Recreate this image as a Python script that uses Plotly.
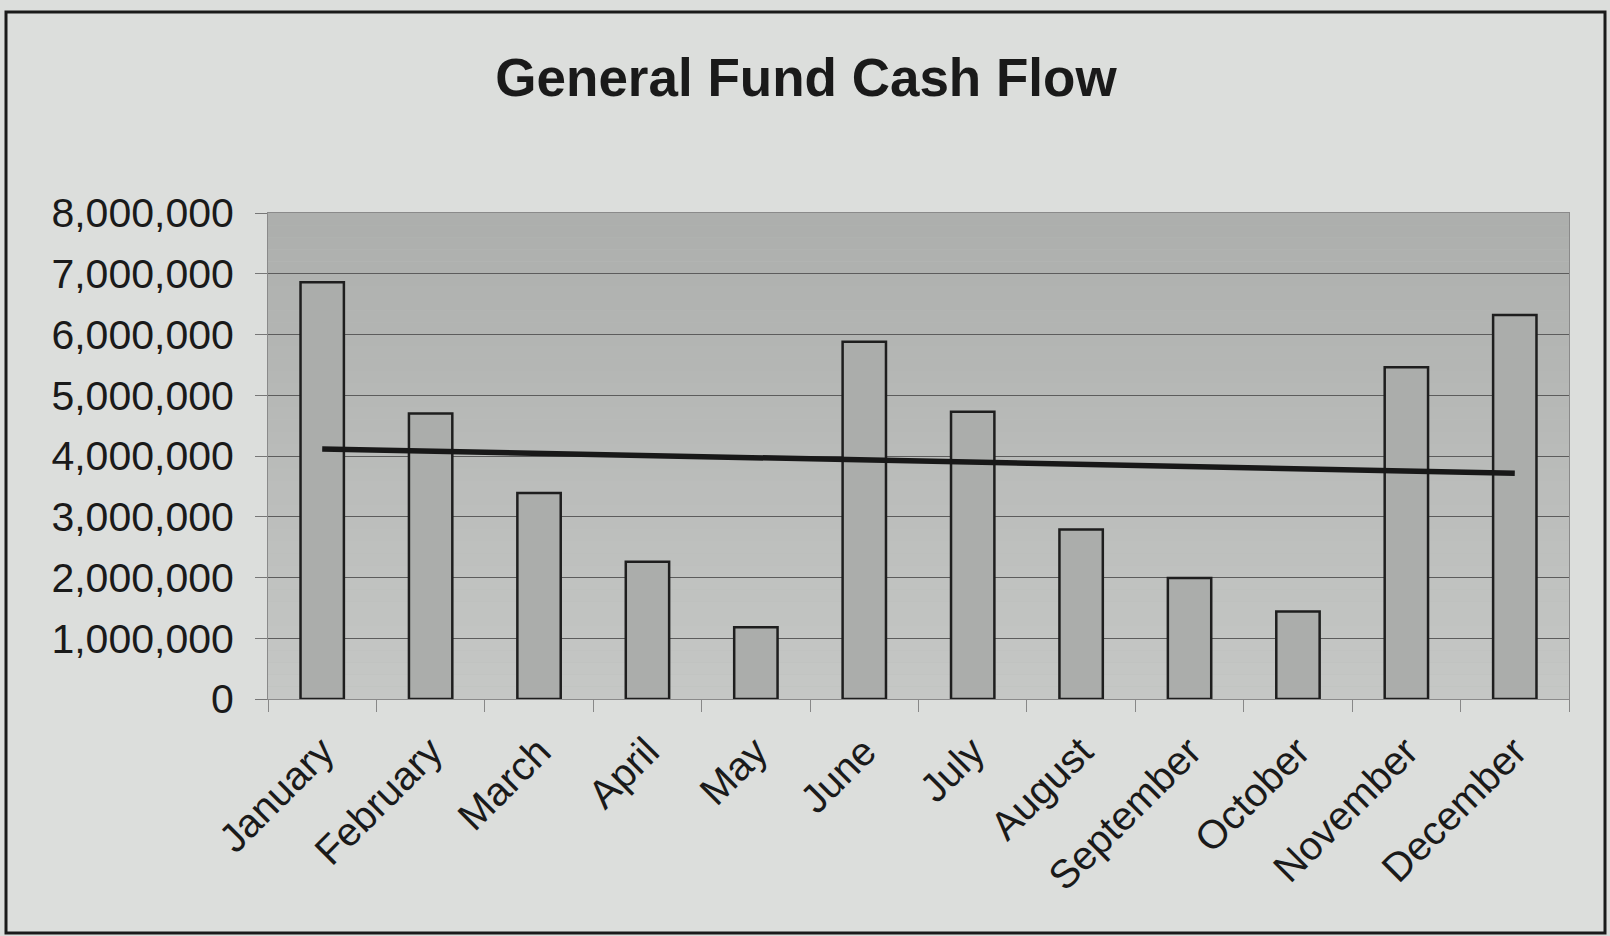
import numpy as np
import plotly.graph_objects as go

months = ["January", "February", "March", "April", "May", "June", "July",
          "August", "September", "October", "November", "December"]
cash_flow = [6860000, 4700000, 3390000, 2260000, 1180000, 5880000, 4730000,
             2790000, 1990000, 1440000, 5460000, 6320000]
y_tickvals = [0, 1000000, 2000000, 3000000, 4000000, 5000000, 6000000, 7000000, 8000000]
y_ticktext = ["0", "1,000,000", "2,000,000", "3,000,000", "4,000,000",
              "5,000,000", "6,000,000", "7,000,000", "8,000,000"]

# linear trendline (least squares) computed from the bar values
idx = np.arange(len(months))
slope, intercept = np.polyfit(idx, np.array(cash_flow, dtype=float), 1)
trend = (slope * idx + intercept).tolist()

W, H = 1610, 936
L, R, T, B = 268, 41, 213, 237
PW, PH = W - L - R, H - T - B

def px_to_paper_x(px):
    return (px - L) / PW

def px_to_paper_y(py):
    return (H - B - py) / PH

FONT = "Liberation Sans, Arial, sans-serif"

fig = go.Figure()
fig.add_trace(go.Bar(
    x=months, y=cash_flow,
    marker=dict(color="#abadab", line=dict(color="#1e1e1e", width=2.5)),
    showlegend=False,
))
fig.add_trace(go.Scatter(
    x=months, y=trend, mode="lines",
    line=dict(color="#181818", width=5.5),
    showlegend=False,
))

shapes = []
# plot-area vertical gradient (darker at top, lighter at bottom)
n = 40
top_c = np.array([0xad, 0xaf, 0xad])
bot_c = np.array([0xc6, 0xc8, 0xc6])
for i in range(n):
    t = (i + 0.5) / n
    c = (top_c * (1 - t) + bot_c * t).astype(int)
    shapes.append(dict(
        type="rect", xref="paper", yref="paper", layer="below",
        x0=0, x1=1, y0=1 - (i + 1) / n, y1=1 - i / n,
        fillcolor="rgb(%d,%d,%d)" % tuple(c), line=dict(width=0),
    ))
# outer chart frame
shapes.append(dict(
    type="rect", xref="paper", yref="paper", layer="above",
    x0=px_to_paper_x(6), x1=px_to_paper_x(1605),
    y0=px_to_paper_y(933), y1=px_to_paper_y(12),
    line=dict(color="#1a1a1a", width=3), fillcolor="rgba(0,0,0,0)",
))

fig.update_layout(
    width=W, height=H,
    margin=dict(l=L, r=R, t=T, b=B, pad=0),
    paper_bgcolor="#dcdedc",
    plot_bgcolor="#b8bab8",
    bargap=0.6,
    font=dict(family=FONT, color="#1a1a1a"),
    title=dict(
        text="<b>General Fund Cash Flow</b>",
        font=dict(family=FONT, size=53, color="#1a1a1a"),
        x=806 / W, xanchor="center", xref="container",
        y=1 - 77 / H, yanchor="middle", yref="container",
    ),
    shapes=shapes,
    xaxis=dict(
        type="category",
        tickangle=-45,
        tickfont=dict(family=FONT, size=40, color="#1a1a1a"),
        ticklabelstandoff=12,
        showgrid=False,
        ticks="outside", tickson="boundaries", ticklen=12, tickcolor="#888888", tickwidth=1,
        showline=True, linecolor="#8a8a8a", linewidth=1, mirror=True,
    ),
    yaxis=dict(
        range=[0, 8000000],
        tickvals=y_tickvals, ticktext=y_ticktext,
        tickfont=dict(family=FONT, size=41, color="#1a1a1a"),
        ticklabelstandoff=13,
        showgrid=True, gridcolor="#5c5c5c", gridwidth=1,
        ticks="outside", ticklen=12, tickcolor="#777777", tickwidth=1,
        showline=True, linecolor="#8a8a8a", linewidth=1, mirror=True,
        zeroline=False,
    ),
)

fig.write_html(
    "out.html",
    config={"displayModeBar": False},
    post_script="document.body.style.margin='0';document.body.style.padding='0';",
)
